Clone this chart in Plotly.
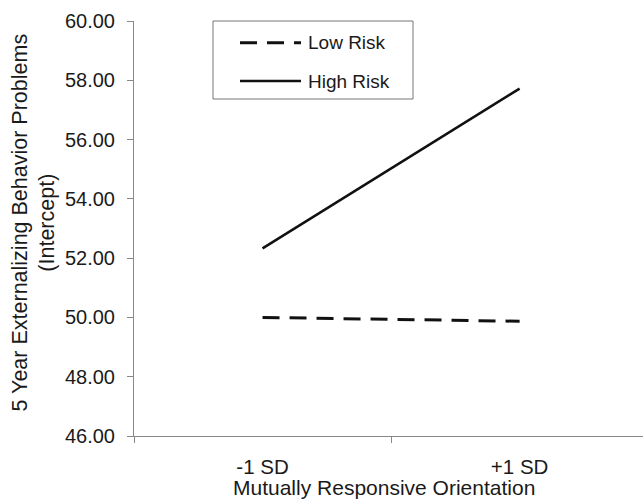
import plotly.graph_objects as go

categories = ["-1 SD", "+1 SD"]
series_names = ["Low Risk", "High Risk"]
low_risk = [50.00, 49.87]
high_risk = [52.33, 57.72]
y_ticks = [46, 48, 50, 52, 54, 56, 58, 60]

W, H = 643, 501
L, R, T, B = 134, 0, 21, 65
PW, PH = W - L - R, H - T - B

def px2x(px):
    return (px - L) / PW

def py2y(py):
    return (H - B - py) / PH

FONT = "Liberation Sans, Arial, sans-serif"
TXT = "#1a1a1a"
DASH = "17px,10px"

fig = go.Figure()
fig.add_trace(go.Scatter(x=categories, y=low_risk, name=series_names[0], mode="lines",
                         line=dict(color="#111", width=3, dash=DASH)))
fig.add_trace(go.Scatter(x=categories, y=high_risk, name=series_names[1], mode="lines",
                         line=dict(color="#111", width=2.5)))

# manual legend box
shapes = [dict(type="rect", xref="paper", yref="paper",
               x0=px2x(213), x1=px2x(413), y0=py2y(99), y1=py2y(21),
               line=dict(color="#777", width=1), fillcolor="white", layer="above")]
annotations = []
rows = [(series_names[0], DASH, 3, 42.7), (series_names[1], "solid", 2.5, 81)]
for name, dash, w, yc in rows:
    shapes.append(dict(type="line", xref="paper", yref="paper",
                       x0=px2x(240), x1=px2x(301), y0=py2y(yc), y1=py2y(yc),
                       line=dict(color="#111", width=w, dash=dash), layer="above"))
    annotations.append(dict(text=name, xref="paper", yref="paper", x=px2x(306), y=py2y(yc),
                            xanchor="left", yanchor="middle", showarrow=False,
                            font=dict(family=FONT, size=19, color=TXT)))

annotations.append(dict(text="5 Year Externalizing Behavior Problems<br>(Intercept)",
                        xref="paper", yref="paper", x=px2x(33), y=py2y(222.5),
                        xanchor="center", yanchor="middle", textangle=-90, showarrow=False,
                        font=dict(family=FONT, size=21.5, color=TXT)))
annotations.append(dict(text="Mutually Responsive Orientation",
                        xref="paper", yref="paper", x=px2x(384), y=py2y(487),
                        xanchor="center", yanchor="middle", showarrow=False,
                        font=dict(family=FONT, size=21, color=TXT)))

fig.update_layout(
    width=W, height=H,
    margin=dict(l=L, r=R, t=T, b=B),
    paper_bgcolor="white", plot_bgcolor="white",
    showlegend=False,
    shapes=shapes, annotations=annotations,
    font=dict(family=FONT, size=20, color=TXT),
    xaxis=dict(type="category", range=[-0.5, 1.48], showgrid=False, zeroline=False,
               showline=True, linecolor="#888", linewidth=1,
               ticks="outside", tickson="boundaries", ticklen=6, tickcolor="#888",
               tickfont=dict(family=FONT, size=20.5, color=TXT), ticklabelstandoff=12),
    yaxis=dict(range=[46, 60], tickvals=y_ticks, tickformat=".2f", showgrid=False,
               zeroline=False, showline=True, linecolor="#888", linewidth=1,
               ticks="outside", ticklen=6, tickcolor="#888",
               tickfont=dict(family=FONT, size=20, color=TXT), ticklabelstandoff=8),
)

fig.write_html("out.html")
